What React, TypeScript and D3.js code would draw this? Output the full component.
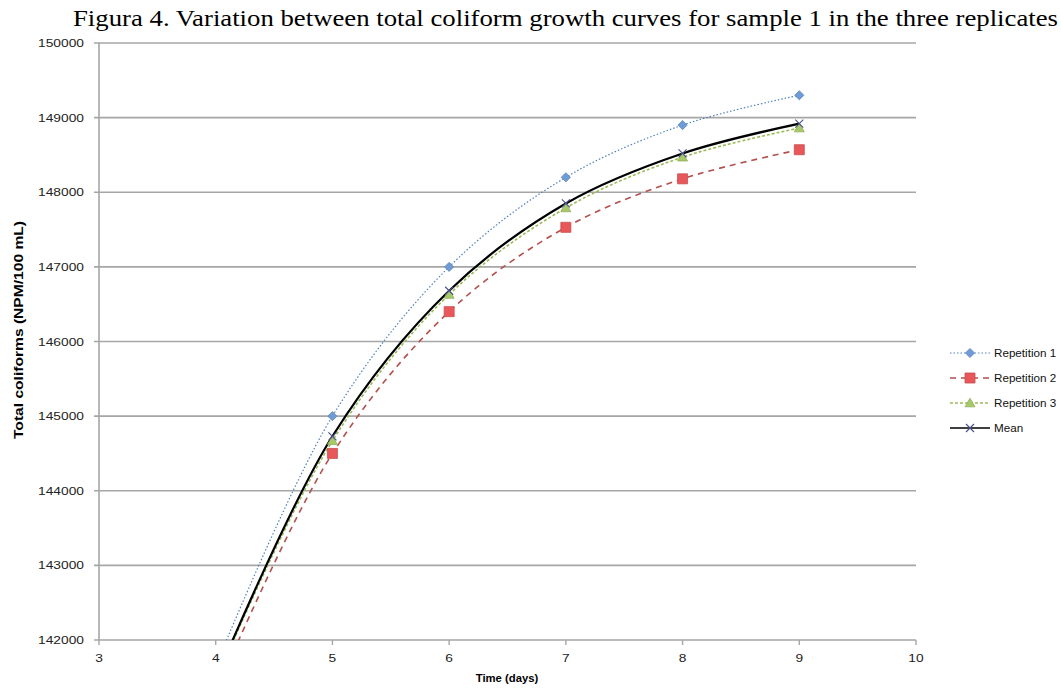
import { useEffect, useRef } from "react";
import * as d3 from "d3";

const days = [4, 5, 6, 7, 8, 9];
const rep1 = [141650, 145000, 147000, 148200, 148900, 149300];
const rep2 = [141300, 144500, 146400, 147530, 148180, 148570];
const rep3 = [141450, 144670, 146630, 147790, 148470, 148860];
const mean = [141470, 144730, 146680, 147850, 148520, 148920];
const xTicks = [3, 4, 5, 6, 7, 8, 9, 10];
const yTicks = [142000, 143000, 144000, 145000, 146000, 147000, 148000, 149000, 150000];
const seriesNames = ["Repetition 1", "Repetition 2", "Repetition 3", "Mean"];

const W = 1061;
const H = 689;
const SX = 1.22; // the source picture is stretched sideways

export default function App() {
  const ref = useRef<SVGSVGElement>(null);

  useEffect(() => {
    if (!ref.current) return;
    const svg = d3.select(ref.current);
    svg.selectAll("*").remove();

    const m = { left: 99, right: 916, top: 43, bottom: 640 };
    const x = d3.scaleLinear().domain([3, 10]).range([m.left, m.right]);
    const y = d3.scaleLinear().domain([142000, 150000]).range([m.bottom, m.top]);
    const font = "Arial, 'Liberation Sans', sans-serif";

    svg
      .append("text")
      .attr("x", 73)
      .attr("y", 26)
      .attr("font-family", "'Liberation Serif', 'Times New Roman', serif")
      .attr("font-size", 24)
      .attr("textLength", 985)
      .attr("lengthAdjust", "spacingAndGlyphs")
      .attr("fill", "#000")
      .text("Figura 4. Variation between total coliform growth curves for sample 1 in the three replicates");

    // grid
    svg
      .append("g")
      .selectAll("line")
      .data(yTicks)
      .join("line")
      .attr("x1", m.left - 5)
      .attr("x2", m.right)
      .attr("y1", (d) => y(d))
      .attr("y2", (d) => y(d))
      .attr("stroke", "#a6a6a6")
      .attr("stroke-width", 1.6);

    svg
      .append("line")
      .attr("x1", m.left)
      .attr("x2", m.left)
      .attr("y1", m.top)
      .attr("y2", m.bottom)
      .attr("stroke", "#a6a6a6")
      .attr("stroke-width", 1.6);

    svg
      .append("g")
      .selectAll("line")
      .data(xTicks)
      .join("line")
      .attr("x1", (d) => x(d))
      .attr("x2", (d) => x(d))
      .attr("y1", m.bottom)
      .attr("y2", m.bottom + 5)
      .attr("stroke", "#a6a6a6")
      .attr("stroke-width", 1.4);

    svg
      .append("g")
      .selectAll("text")
      .data(yTicks)
      .join("text")
      .attr("transform", (d) => `translate(${m.left - 15},${y(d) + 4}) scale(${SX},1)`)
      .attr("text-anchor", "end")
      .attr("font-family", font)
      .attr("font-size", 11.3)
      .attr("fill", "#222")
      .text((d) => String(d));

    svg
      .append("g")
      .selectAll("text")
      .data(xTicks)
      .join("text")
      .attr("transform", (d) => `translate(${x(d)},${m.bottom + 22}) scale(${SX},1)`)
      .attr("text-anchor", "middle")
      .attr("font-family", font)
      .attr("font-size", 11.3)
      .attr("fill", "#222")
      .text((d) => String(d));

    svg
      .append("text")
      .attr("x", 507)
      .attr("y", 682)
      .attr("text-anchor", "middle")
      .attr("font-family", font)
      .attr("font-weight", "bold")
      .attr("font-size", 11.3)
      .text("Time (days)");

    svg
      .append("text")
      .attr("transform", `translate(23,330) rotate(-90)`)
      .attr("text-anchor", "middle")
      .attr("font-family", font)
      .attr("font-weight", "bold")
      .attr("font-size", 13.5)
      .attr("textLength", 218)
      .attr("lengthAdjust", "spacingAndGlyphs")
      .text("Total coliforms (NPM/100 mL)");

    // clip
    svg
      .append("clipPath")
      .attr("id", "plot-clip")
      .append("rect")
      .attr("x", m.left)
      .attr("y", m.top - 10)
      .attr("width", m.right - m.left)
      .attr("height", m.bottom - m.top + 10);

    const styles = [
      { vals: rep1, stroke: "#4f81bd", width: 1.2, dash: "1.5,2", marker: "diamond", fill: "#6f9bd6" },
      { vals: rep2, stroke: "#b3504d", width: 1.6, dash: "6,5", marker: "square", fill: "#e8585a" },
      { vals: rep3, stroke: "#9bbb59", width: 1.6, dash: "3,2", marker: "triangle", fill: "#a8c96a" },
      { vals: mean, stroke: "#000", width: 2.2, dash: null, marker: "x", fill: "#4a4f8a" },
    ];

    const line = d3
      .line<number>()
      .x((_, i) => x(days[i]))
      .y((d) => y(d))
      .curve(d3.curveCatmullRom.alpha(0.5));

    const plot = svg.append("g").attr("clip-path", "url(#plot-clip)");

    const shape = (k: string) =>
      k === "diamond"
        ? "M0,-4.6L4.6,0L0,4.6L-4.6,0Z"
        : k === "square"
        ? "M-5,-5H5V5H-5Z"
        : k === "triangle"
        ? "M0,-4.8L5,3.8H-5Z"
        : "M-4,-4L4,4M-4,4L4,-4";

    const drawMarker = (g: d3.Selection<any, any, any, any>, s: (typeof styles)[number], cx: number, cy: number) => {
      const p = g.append("path").attr("transform", `translate(${cx},${cy})`).attr("d", shape(s.marker));
      if (s.marker === "x") {
        p.attr("fill", "none").attr("stroke", s.fill).attr("stroke-width", 1.1);
      } else {
        p.attr("fill", s.fill).attr("stroke", d3.color(s.fill)!.darker(0.4).toString()).attr("stroke-width", 0.8);
      }
    };

    styles.forEach((s) => {
      plot
        .append("path")
        .attr("d", line(s.vals)!)
        .attr("fill", "none")
        .attr("stroke", s.stroke)
        .attr("stroke-width", s.width)
        .attr("stroke-dasharray", s.dash ?? null);
    });
    styles.forEach((s) => {
      s.vals.forEach((v, i) => {
        if (v < 142000) return;
        drawMarker(plot, s, x(days[i]), y(v));
      });
    });

    // legend
    const lg = svg.append("g");
    styles.forEach((s, i) => {
      const ly = 353 + i * 25;
      lg.append("line")
        .attr("x1", 950)
        .attr("x2", 990)
        .attr("y1", ly)
        .attr("y2", ly)
        .attr("stroke", s.stroke)
        .attr("stroke-width", s.marker === "x" ? 1.5 : s.width)
        .attr("stroke-dasharray", s.dash ?? null);
      drawMarker(lg, s, 970, ly);
      lg.append("text")
        .attr("transform", `translate(994,${ly + 4}) scale(1.1,1)`)
        .attr("font-family", font)
        .attr("font-size", 10.6)
        .attr("fill", "#111")
        .text(seriesNames[i]);
    });
  }, []);

  return (
    <svg
      ref={ref}
      width={W}
      height={H}
      style={{ position: "absolute", left: 0, top: 0, background: "#fff" }}
    />
  );
}
